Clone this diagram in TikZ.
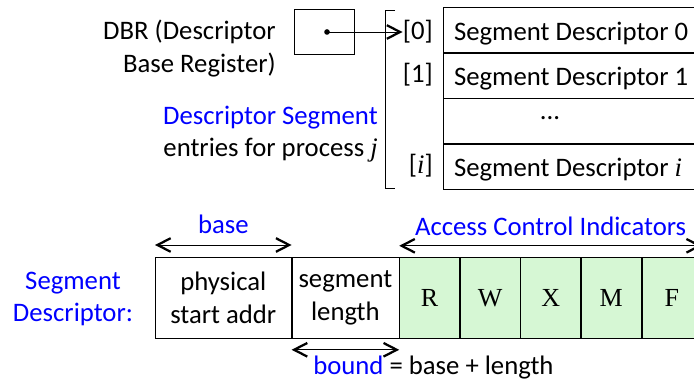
\documentclass[tikz,border=0pt]{standalone}
\usepackage{fontspec}
\setmainfont{Carlito}
\newfontfamily\tms{Liberation Serif}
\usepackage{tikz}
\usetikzlibrary{positioning,arrows.meta}

\definecolor{acigreen}{RGB}{214,247,212}

\tikzset{
  lbl/.style={inner sep=0pt, font=\fontsize{19}{23}\selectfont},
  entry/.style={draw, lbl, minimum width=7cm, minimum height=1.125cm,
    text width=6.46cm, inner xsep=0.27cm, text height=0.62cm, text depth=0.1cm, align=flush left},
  field/.style={draw, lbl, minimum height=2.025cm, align=center},
  flag/.style={field, fill=acigreen, minimum width=1.5cm,
    font=\tms\fontsize{18.5}{22}\selectfont},
  span/.style={<->, line width=0.7pt},
}

\begin{document}
\begin{tikzpicture}[x=0.025cm, y=-0.025cm,
    >={Straight Barb[length=0.33cm, width=0.34cm, line width=1.6pt]}]
  \useasboundingbox (0,0) rectangle (694,379);

  % descriptor base register and its pointer
  \node[draw, minimum width=1.5cm, minimum height=1.125cm] (dbr) at (324,31.5) {};
  \coordinate (ptr) at (327,32);
  \fill (ptr) circle (2pt);
  \node[lbl, anchor=east, align=right] (dbrtxt) at (276,48.5) {DBR (Descriptor\\Base Register)};

  % descriptor segment table
  \node[entry, anchor=north west] (sd0) at (443,7) {Segment Descriptor 0};
  \node[entry, below=0pt of sd0] (sd1) {Segment Descriptor 1};
  \node[entry, below=0pt of sd1] (sdx) {};
  \node[entry, below=0pt of sdx] (sdi) {Segment Descriptor {\tms\itshape i}};
  \node[lbl] (dots) at (550,118) {...};

  \node[lbl, anchor=east] (idx0) at (433,32) {[0]};
  \node[lbl, anchor=east] (idx1) at (433,75) {[1]};
  \node[lbl, anchor=east] (idxi) at (433,166) {[{\tms\itshape i}]};
  \draw[->, line width=0.7pt] (ptr) -- (idx0.west);
  \draw[line width=0.7pt] (395,10) -- (385,10) -- (385,188) -- (395,188);

  \node[lbl, anchor=east, align=right] (dstxt) at (378,134)
    {\textcolor{blue}{Descriptor Segment}\\entries for process {\tms\itshape j}};

  % layout of one segment descriptor
  \node[lbl, text=blue, align=center] (sdtxt) at (73,299) {Segment\\Descriptor:};
  \node[field, anchor=north west, minimum width=3.4cm] (phys) at (155,257) {physical\\start addr};
  \node[field, right=0pt of phys, minimum width=2.675cm] (len) {segment\\length};
  \node[flag, right=0pt of len] (fr) {R};
  \node[flag, right=0pt of fr] (fw) {W};
  \node[flag, right=0pt of fw] (fx) {X};
  \node[flag, right=0pt of fx] (fm) {M};
  \node[flag, right=0pt of fm] (ff) {F};

  \draw[span] ([yshift=0.3cm]phys.north west) -- ([yshift=0.3cm]phys.north east)
    node[midway, above=0.26cm, lbl, text=blue] (basetxt) {base};
  \draw[span] ([yshift=0.28cm]fr.north west) -- ([yshift=0.28cm]ff.north east)
    node[midway, above=0.24cm, lbl, text=blue] (acitxt) {Access Control Indicators};
  \draw[span] ([yshift=-0.28cm]len.south west) -- ([yshift=-0.28cm]len.south east);
  \node[lbl, anchor=base west] (boundtxt) at (313,374) {\textcolor{blue}{bound} = base + length};
\end{tikzpicture}
\end{document}
